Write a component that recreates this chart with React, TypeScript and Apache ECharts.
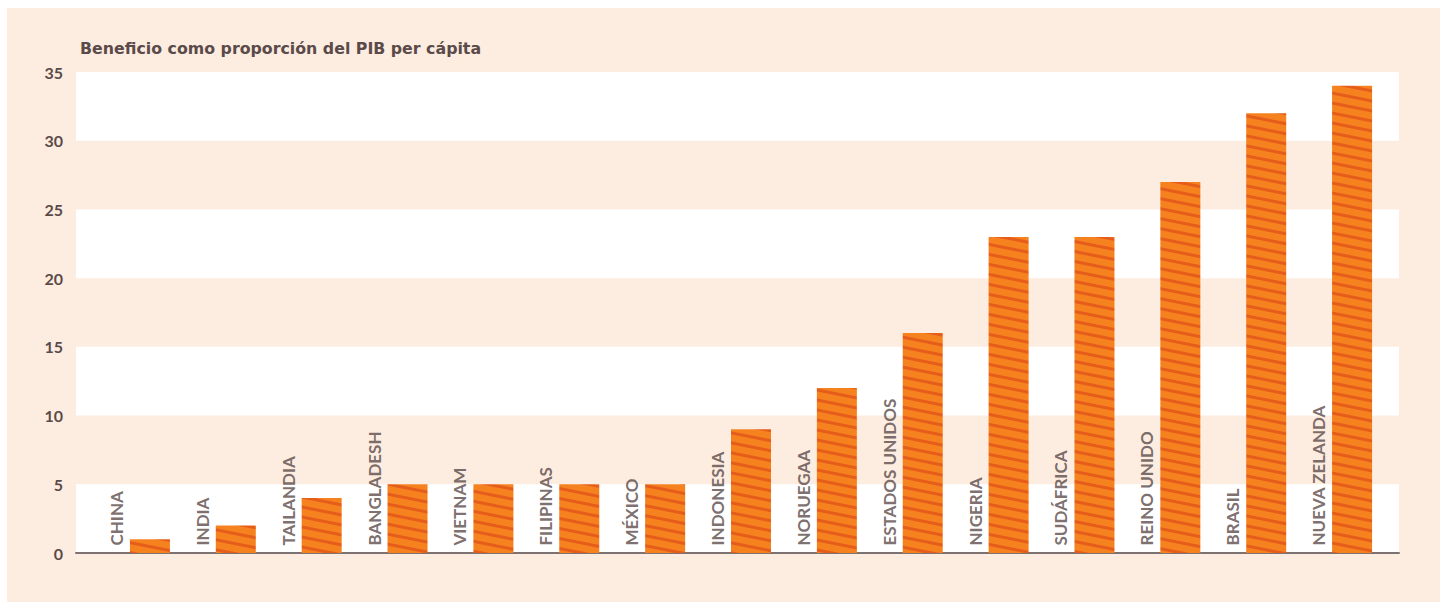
import React, { useEffect, useRef } from "react";
import * as echarts from "echarts";

const categories = [
  "CHINA",
  "INDIA",
  "TAILANDIA",
  "BANGLADESH",
  "VIETNAM",
  "FILIPINAS",
  "MÉXICO",
  "INDONESIA",
  "NORUEGAA",
  "ESTADOS UNIDOS",
  "NIGERIA",
  "SUDÁFRICA",
  "REINO UNIDO",
  "BRASIL",
  "NUEVA ZELANDA",
];
const values = [1, 2, 4, 5, 5, 5, 5, 9, 12, 16, 23, 23, 27, 32, 34];
const titleText = "Beneficio como proporción del PIB per cápita";
const yMin = 0;
const yMax = 35;
const yStep = 5;

const TEXT = "#5a4a49";
const PEACH = "#fdede0";
const FONT = "Lato, 'Noto Sans', sans-serif";

function makeStripes() {
  const c = document.createElement("canvas");
  c.width = 50;
  c.height = 10;
  const ctx = c.getContext("2d")!;
  ctx.fillStyle = "#f5821f";
  ctx.fillRect(0, 0, 50, 10);
  ctx.strokeStyle = "#e65c1b";
  ctx.lineWidth = 3;
  for (const dy of [-10, 0, 10]) {
    ctx.beginPath();
    ctx.moveTo(-5, dy - 1);
    ctx.lineTo(55, dy + 11);
    ctx.stroke();
  }
  return c;
}

export default function App() {
  const ref = useRef<HTMLDivElement>(null);
  useEffect(() => {
    if (!ref.current) return;
    const chart = echarts.init(ref.current, null, { renderer: "svg" });
    const stripes = makeStripes();
    chart.setOption({
      animation: false,
      backgroundColor: PEACH,
      title: {
        text: titleText,
        left: 68,
        top: 27,
        textStyle: { fontFamily: "'DejaVu Sans', sans-serif", fontWeight: "bold", fontSize: 15.8, color: TEXT },
      },
      grid: [
        { left: 69, right: 41, top: 64, bottom: 49 },
        { left: 100, right: 45, top: 64, bottom: 49 },
      ],
      xAxis: [
        {
          gridIndex: 0,
          type: "category",
          data: categories,
          axisLine: { show: true, lineStyle: { color: "#7d7272", width: 2 } },
          axisTick: { show: false },
          axisLabel: { show: false },
          splitLine: { show: false },
        },
        {
          gridIndex: 1,
          type: "category",
          data: categories,
          show: false,
        },
      ],
      yAxis: [
        {
          gridIndex: 0,
          type: "value",
          min: yMin,
          max: yMax,
          interval: yStep,
          axisLine: { show: false },
          axisTick: { show: false },
          splitLine: { show: false },
          splitArea: { show: true, areaStyle: { color: ["#ffffff", "rgba(0,0,0,0)"] } },
          axisLabel: {
            margin: 13,
            fontFamily: FONT,
            fontWeight: "bold",
            fontSize: 16,
            color: TEXT,
          },
        },
        {
          gridIndex: 1,
          type: "value",
          min: yMin,
          max: yMax,
          interval: yStep,
          show: false,
        },
      ],
      series: [
        {
          type: "bar",
          xAxisIndex: 1,
          yAxisIndex: 1,
          data: values,
          barWidth: 40,
          itemStyle: {
            color: { image: stripes, repeat: "repeat", imageWidth: 50, imageHeight: 10 } as any,
          },
          silent: true,
        },
        {
          type: "scatter",
          xAxisIndex: 1,
          yAxisIndex: 1,
          data: categories.map((c) => [c, 0]),
          symbolSize: 1,
          itemStyle: { color: "rgba(0,0,0,0)" },
          silent: true,
          label: {
            show: true,
            formatter: (p: any) => p.name,
            rotate: 90,
            position: [-33, -7],
            align: "left",
            verticalAlign: "middle",
            fontFamily: FONT,
            fontWeight: "bold",
            fontSize: 17,
            color: TEXT,
          },
        },
      ],
    });
    return () => chart.dispose();
  }, []);
  return (
    <div
      ref={ref}
      style={{ position: "fixed", left: 7, top: 8, width: 1433, height: 594 }}
    />
  );
}
